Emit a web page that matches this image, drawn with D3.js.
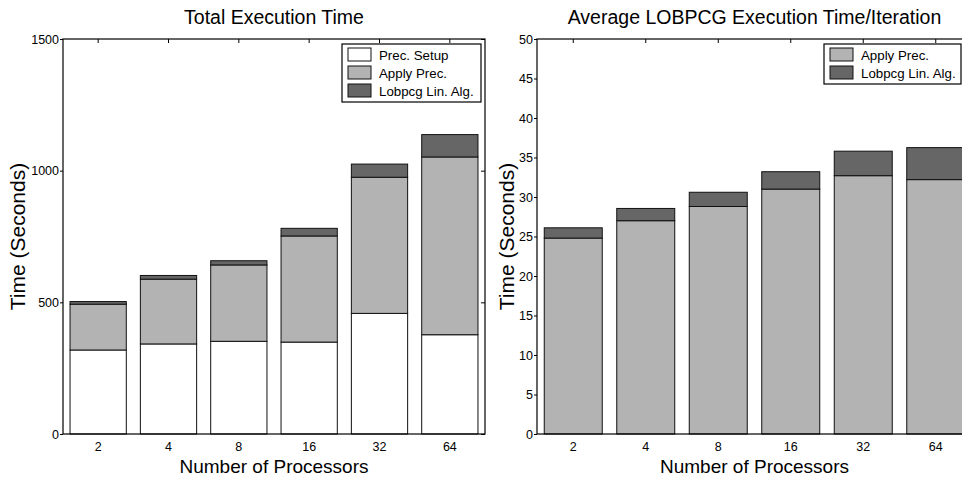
<!DOCTYPE html>
<html>
<head>
<meta charset="utf-8">
<script src="https://cdn.jsdelivr.net/npm/d3@7"></script>
<style>
  body { margin: 0; background: #fff; }
  svg { display: block; font-family: "Liberation Sans", Arial, sans-serif; }
  .tick text { font-size: 12.5px; fill: #000; }
  .tick line { stroke: #000; }
</style>
</head>
<body>
<svg width="962" height="478"></svg>
<script>
const procs = ["2", "4", "8", "16", "32", "64"];

// left panel: total time (seconds)
const precSetup = [319, 342, 352, 349, 458, 377];
const applyPrecTotal = [174, 246, 290, 403, 517, 675];
const lobpcgTotal = [10, 14, 16, 29, 50, 85];
const leftTicks = [0, 500, 1000, 1500];

// right panel: average time per iteration (seconds)
const applyPrecIter = [24.8, 27.0, 28.8, 31.0, 32.7, 32.2];
const lobpcgIter = [1.3, 1.55, 1.8, 2.2, 3.1, 4.05];
const rightTicks = [0, 5, 10, 15, 20, 25, 30, 35, 40, 45, 50];

const colors = { "Prec. Setup": "#ffffff", "Apply Prec.": "#b3b3b3", "Lobpcg Lin. Alg.": "#666666" };

const svg = d3.select("svg");

function panel(opts) {
  const { x0, x1, top, bottom, keys, series, maxY, ticks, title, legend, ylabX } = opts;
  const rows = procs.map((p, i) => {
    const r = { proc: p };
    keys.forEach((k, j) => r[k] = series[j][i]);
    return r;
  });

  const x = d3.scaleBand().domain(procs).range([x0, x1])
    .paddingInner(0.2).paddingOuter(0.1);
  const y = d3.scaleLinear().domain([0, maxY]).range([bottom, top]);

  const g = svg.append("g");

  const stacked = d3.stack().keys(keys)(rows);
  g.selectAll("g.layer")
    .data(stacked)
    .join("g")
    .attr("class", "layer")
    .attr("fill", d => colors[d.key])
    .selectAll("rect")
    .data(d => d)
    .join("rect")
    .attr("x", d => x(d.data.proc))
    .attr("width", x.bandwidth())
    .attr("y", d => y(d[1]))
    .attr("height", d => y(d[0]) - y(d[1]))
    .attr("stroke", "#111")
    .attr("stroke-width", 1);

  // box
  g.append("rect")
    .attr("x", x0).attr("y", top)
    .attr("width", x1 - x0).attr("height", bottom - top)
    .attr("fill", "none").attr("stroke", "#000").attr("stroke-width", 1.2);

  // left axis
  const yAx = g.append("g")
    .attr("transform", "translate(" + x0 + ",0)")
    .call(d3.axisLeft(y).tickValues(ticks).tickSize(3).tickPadding(1).tickFormat(d3.format("d")));
  yAx.select(".domain").remove();

  // right axis ticks (inward)
  const yAxR = g.append("g")
    .attr("transform", "translate(" + x1 + ",0)")
    .call(d3.axisRight(y).tickValues(ticks).tickSize(-4).tickFormat(""));
  yAxR.select(".domain").remove();

  // bottom labels
  const xAx = g.append("g")
    .attr("transform", "translate(0," + bottom + ")")
    .call(d3.axisBottom(x).tickSize(0).tickPadding(8));
  xAx.select(".domain").remove();

  // top ticks (inward)
  const xAxT = g.append("g")
    .attr("transform", "translate(0," + top + ")")
    .call(d3.axisTop(x).tickSize(-4).tickFormat(""));
  xAxT.select(".domain").remove();

  const cx = (x0 + x1) / 2;
  svg.append("text")
    .attr("x", cx).attr("y", 24)
    .attr("text-anchor", "middle")
    .style("font-size", "19.5px")
    .text(title);

  svg.append("text")
    .attr("x", cx)
    .attr("y", 473)
    .attr("text-anchor", "middle")
    .style("font-size", "19px")
    .text("Number of Processors");

  svg.append("text")
    .attr("transform", "translate(" + ylabX + "," + ((top + bottom) / 2) + ") rotate(-90)")
    .attr("text-anchor", "middle")
    .style("font-size", "21px")
    .text("Time (Seconds)");

  // legend
  const lg = svg.append("g");
  lg.append("rect")
    .attr("x", legend.x).attr("y", legend.y)
    .attr("width", legend.w).attr("height", keys.length * 18 + 4)
    .attr("fill", "#fff").attr("stroke", "#000").attr("stroke-width", 1.2);
  keys.forEach((k, i) => {
    const ry = legend.y + 4 + i * 18;
    lg.append("rect")
      .attr("x", legend.x + 6).attr("y", ry)
      .attr("width", 23).attr("height", 13)
      .attr("fill", colors[k]).attr("stroke", "#111");
    lg.append("text")
      .attr("x", legend.x + 37).attr("y", ry + 11.5)
      .style("font-size", "13.3px")
      .text(k);
  });
}

panel({
  x0: 63, x1: 485, top: 39, bottom: 434,
  keys: ["Prec. Setup", "Apply Prec.", "Lobpcg Lin. Alg."],
  series: [precSetup, applyPrecTotal, lobpcgTotal],
  maxY: 1500, ticks: leftTicks,
  title: "Total Execution Time",
  legend: { x: 342, y: 44, w: 139 },
  ylabX: 25
});

panel({
  x0: 537, x1: 972, top: 39, bottom: 434,
  keys: ["Apply Prec.", "Lobpcg Lin. Alg."],
  series: [applyPrecIter, lobpcgIter],
  maxY: 50, ticks: rightTicks,
  title: "Average LOBPCG Execution Time/Iteration",
  legend: { x: 824, y: 44, w: 137 },
  ylabX: 514
});
</script>
</body>
</html>
